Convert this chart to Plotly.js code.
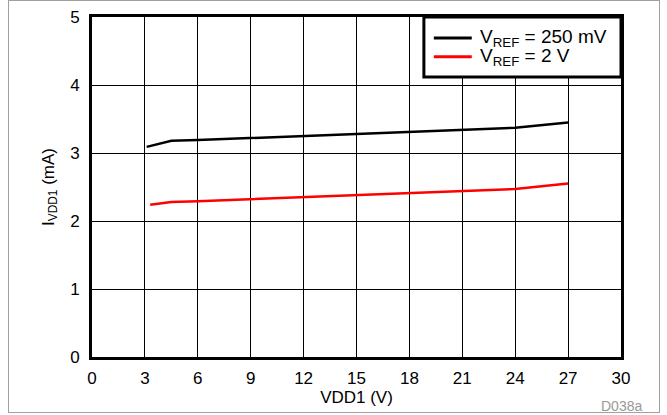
<!DOCTYPE html>
<html>
<head>
<meta charset="utf-8">
<script src="https://cdn.plot.ly/plotly-3.0.1.min.js"></script>
<style>
html,body{margin:0;padding:0;background:#fff;}
#wrap{position:relative;width:667px;height:415px;}
#frame{position:absolute;left:8px;top:0px;width:650px;height:411px;border:1px solid #a0a0a0;pointer-events:none;}
#chart{position:absolute;left:0;top:0;width:667px;height:415px;}
</style>
</head>
<body>
<div id="wrap">
<div id="chart"></div>
<div id="frame"></div>
</div>
<script>
const xBlack = [3.1, 4.5, 6, 9, 12, 15, 18, 21, 24, 27];
const yBlack = [3.09, 3.18, 3.19, 3.22, 3.25, 3.28, 3.31, 3.34, 3.37, 3.45];
const xRed = [3.3, 4.5, 6, 9, 12, 15, 18, 21, 24, 27];
const yRed = [2.24, 2.28, 2.29, 2.32, 2.36, 2.39, 2.42, 2.45, 2.47, 2.55];
const nameBlack = 'V<sub>REF</sub> = 250 mV';
const nameRed = 'V<sub>REF</sub> = 2 V';
const colorBlack = '#000000';
const colorRed = '#ff0000';
const xTicks = [0, 3, 6, 9, 12, 15, 18, 21, 24, 27, 30];
const yTicks = [0, 1, 2, 3, 4, 5];

const FAM = 'Arial';
const tickFont = {family: FAM, size: 17, color: '#000'};
const titleFont = {family: FAM, size: 17, color: '#000'};
const legFont = {family: FAM, size: 19, color: '#000'};

const traces = [
  {x: xBlack, y: yBlack, name: nameBlack, mode: 'lines', line: {color: colorBlack, width: 2.5}},
  {x: xRed, y: yRed, name: nameRed, mode: 'lines', line: {color: colorRed, width: 2.5}}
];

// custom legend (paper coordinates)
const legBox = {x0: 0.6274, x1: 1.0, y0: 0.8235, y1: 1.0};
const legRows = [
  {name: nameBlack, color: colorBlack, y: 0.9382},
  {name: nameRed, color: colorRed, y: 0.8832}
];
const shapes = [{
  type: 'rect', xref: 'paper', yref: 'paper',
  x0: legBox.x0, x1: legBox.x1, y0: legBox.y0, y1: legBox.y1,
  fillcolor: '#fff', line: {color: '#000', width: 3}, layer: 'above'
}];
const annotations = [];
legRows.forEach(r => {
  shapes.push({type: 'line', xref: 'paper', yref: 'paper',
    x0: 0.6462, x1: 0.7179, y0: r.y, y1: r.y,
    line: {color: r.color, width: 3}, layer: 'above'});
  annotations.push({text: r.name, xref: 'paper', yref: 'paper',
    x: 0.729, y: r.y, xanchor: 'left', yanchor: 'middle', yshift: 0,
    showarrow: false, font: legFont});
});
annotations.push({
  text: 'D038a', xref: 'paper', yref: 'paper', x: 1, y: 0,
  xanchor: 'center', yanchor: 'top', yshift: -39, showarrow: false,
  font: {family: FAM, size: 14, color: '#999'}
});

const layout = {
  width: 667, height: 415,
  margin: {l: 91.5, r: 45.5, t: 17, b: 58},
  paper_bgcolor: '#fff', plot_bgcolor: '#fff',
  font: tickFont,
  showlegend: false,
  xaxis: {
    range: [0, 30], tickvals: xTicks, ticktext: xTicks.map(String),
    showgrid: true, gridcolor: '#000', gridwidth: 1,
    showline: true, linecolor: '#000', linewidth: 3, mirror: true,
    zeroline: false, ticks: 'outside', ticklen: 4, tickcolor: 'rgba(0,0,0,0)',
    tickfont: tickFont,
    title: {text: 'VDD1 (V)', font: titleFont, standoff: 1},
    fixedrange: true
  },
  yaxis: {
    range: [0, 5], tickvals: yTicks, ticktext: yTicks.map(String),
    showgrid: true, gridcolor: '#000', gridwidth: 1,
    showline: true, linecolor: '#000', linewidth: 3, mirror: true,
    zeroline: false, ticks: 'outside', ticklen: 6, tickcolor: 'rgba(0,0,0,0)',
    tickfont: tickFont,
    title: {text: 'I<sub>VDD1</sub> (mA)', font: titleFont, standoff: 12},
    fixedrange: true
  },
  shapes: shapes,
  annotations: annotations
};

Plotly.newPlot('chart', traces, layout, {displayModeBar: false, staticPlot: true});
</script>
</body>
</html>
